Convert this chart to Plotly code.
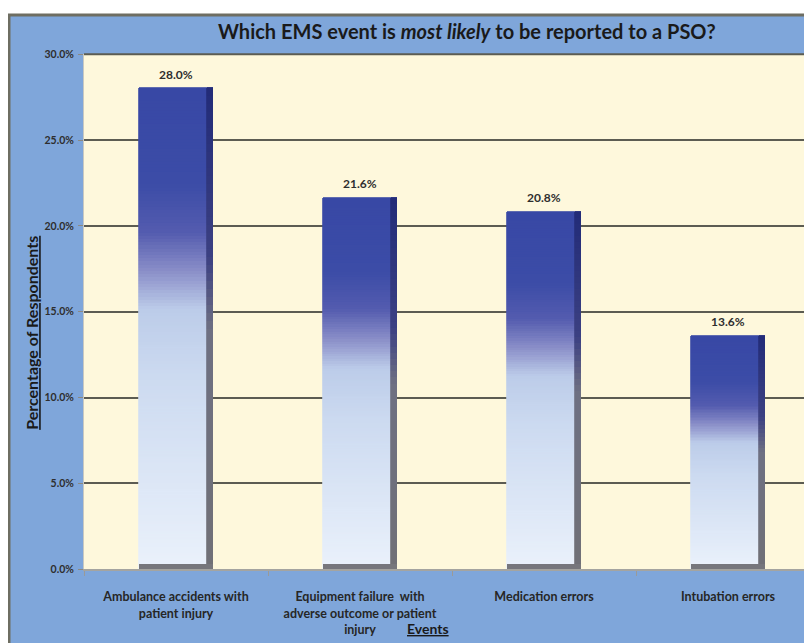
import plotly.graph_objects as go

# ---- data ----
categories = [
    "Ambulance accidents with<br>patient injury",
    "Equipment failure  with<br>adverse outcome or patient<br>injury",
    "Medication errors",
    "Intubation errors",
]
values = [0.280, 0.216, 0.208, 0.136]
value_labels = ["28.0%", "21.6%", "20.8%", "13.6%"]
y_ticks = [0.0, 0.05, 0.10, 0.15, 0.20, 0.25, 0.30]
y_tick_labels = ["0.0%", "5.0%", "10.0%", "15.0%", "20.0%", "25.0%", "30.0%"]

# page body has an 8px margin: the figure fills the rest of the window
OFF = 8
W, H = 812 - OFF, 643 - OFF
BLUE_BG = "#7fa6da"
CREAM = "#fef8dc"
FONT = "Lato"


def fx(px):
    return (px - OFF) / W


def fy(py):
    return (H - (py - OFF)) / H


# plot area in window pixels
PL, PR, PT, PB = 84, 806, 49, 574
CAT_W = 184.0
x_range = [-0.5, -0.5 + (PR - PL) / CAT_W]
y_range = [0, 0.30]
BAR_W = 0.40

stops = [
    (0.00, (56, 72, 165)),
    (0.20, (60, 76, 167)),
    (0.30, (84, 92, 175)),
    (0.38, (138, 142, 200)),
    (0.46, (188, 204, 233)),
    (0.60, (204, 218, 240)),
    (1.00, (234, 241, 251)),
]
edge_stops = [
    (0.00, (34, 44, 120)),
    (0.35, (60, 64, 130)),
    (0.50, (110, 112, 130)),
    (1.00, (112, 112, 118)),
]


def interp(st, f):
    for (f0, c0), (f1, c1) in zip(st[:-1], st[1:]):
        if f0 <= f <= f1:
            t = (f - f0) / (f1 - f0) if f1 > f0 else 0
            return "rgb(%d,%d,%d)" % tuple(round(a + (b - a) * t) for a, b in zip(c0, c1))
    return "rgb(%d,%d,%d)" % st[-1][1]


fig = go.Figure()
N = 150
for k in range(N):
    f_top = 1 - (k + 0.5) / N
    col = interp(stops, f_top)
    fig.add_trace(go.Bar(
        x=categories, y=[v / N for v in values],
        width=BAR_W, marker=dict(color=col, line=dict(width=0.8, color=col)),
        showlegend=False, hoverinfo="skip", xaxis="x", yaxis="y",
    ))

EDGE_W = 6 / CAT_W
NE = 60
for k in range(NE):
    f_top = 1 - (k + 0.5) / NE
    col = interp(edge_stops, f_top)
    fig.add_trace(go.Bar(
        x=categories, y=[v / NE for v in values],
        base=[v * k / NE for v in values],
        width=EDGE_W, offset=BAR_W / 2 - EDGE_W,
        marker=dict(color=col, line=dict(width=0.8, color=col)),
        showlegend=False, hoverinfo="skip", xaxis="x2", yaxis="y",
    ))
shadow_h = (y_range[1] - y_range[0]) * 5 / (PB - PT)
fig.add_trace(go.Bar(
    x=categories, y=[shadow_h] * len(values), base=[0] * len(values),
    width=BAR_W, offset=-BAR_W / 2,
    marker=dict(color="rgb(118,118,124)", line=dict(width=0)),
    showlegend=False, hoverinfo="skip", xaxis="x2", yaxis="y",
))

xd = [fx(PL), min(1.0, fx(PR))]
yd = [fy(PB), fy(PT)]

annotations = [
    dict(text="Which EMS event is <i>most likely</i> to be reported to a PSO?",
         xref="paper", yref="paper", x=fx(467), y=fy(25),
         xanchor="center", yanchor="middle", showarrow=False,
         font=dict(family=FONT, size=20, color="#1a1a1a", weight="bold")),
    dict(text="<u>Percentage of Respondents</u>",
         xref="paper", yref="paper", x=fx(32), y=fy(333),
         xanchor="center", yanchor="middle", showarrow=False, textangle=-90,
         font=dict(family=FONT, size=16, color="#1a1a1a", weight="bold")),
    dict(text="<u>Events</u>",
         xref="paper", yref="paper", x=fx(428), y=fy(634),
         xanchor="center", yanchor="middle", showarrow=False,
         font=dict(family=FONT, size=14, color="#1a1a1a", weight="bold")),
]
for c, v, lab in zip(categories, values, value_labels):
    annotations.append(dict(
        text=lab, x=c, y=v, xref="x2", yref="y", xanchor="center", yanchor="bottom",
        yshift=5, showarrow=False,
        font=dict(family=FONT, size=12, color="#2e2e2e", weight="bold")))

fig.update_layout(
    width=W, height=H,
    margin=dict(l=0, r=0, t=0, b=0),
    paper_bgcolor="white",
    plot_bgcolor=CREAM,
    barmode="stack",
    bargap=0,
    font=dict(family=FONT, color="#222"),
    xaxis=dict(
        domain=xd, range=x_range, type="category",
        tickson="boundaries", ticks="outside", ticklen=5, tickcolor="#9a9a98",
        ticklabelstandoff=15,
        showline=True, linecolor="#a4a4a0", linewidth=2,
        showgrid=False, zeroline=False,
        tickfont=dict(family=FONT, size=12.5, color="#262626", weight="bold"),
        fixedrange=True,
    ),
    xaxis2=dict(
        domain=xd, range=x_range, type="category", overlaying="x",
        visible=False, fixedrange=True, categoryarray=categories, categoryorder="array",
    ),
    yaxis=dict(
        domain=yd, range=y_range,
        tickvals=y_ticks, ticktext=y_tick_labels,
        ticks="outside", ticklen=5, tickcolor="#8a8a86",
        ticklabelstandoff=2,
        showline=True, linecolor="#c8c8c0", linewidth=1,
        showgrid=True, gridcolor="#5c5c52", gridwidth=1.6,
        zeroline=False,
        tickfont=dict(family=FONT, size=10.5, color="#2e2e2e", weight="bold"),
        fixedrange=True,
    ),
    shapes=[
        dict(type="rect", xref="paper", yref="paper", layer="below",
             x0=fx(9), x1=fx(807.5), y0=-0.02, y1=fy(9),
             fillcolor=BLUE_BG, line=dict(color="#6e6e62", width=3)),
        dict(type="rect", xref="paper", yref="paper", layer="below",
             x0=xd[0], x1=xd[1], y0=yd[0], y1=yd[1],
             fillcolor=CREAM, line=dict(width=0)),
        dict(type="line", xref="paper", yref="paper", layer="above",
             x0=xd[0], x1=xd[1], y0=yd[1], y1=yd[1],
             line=dict(color="#5c5c52", width=2)),
    ],
    annotations=annotations,
)

fig.write_html("out.html")
